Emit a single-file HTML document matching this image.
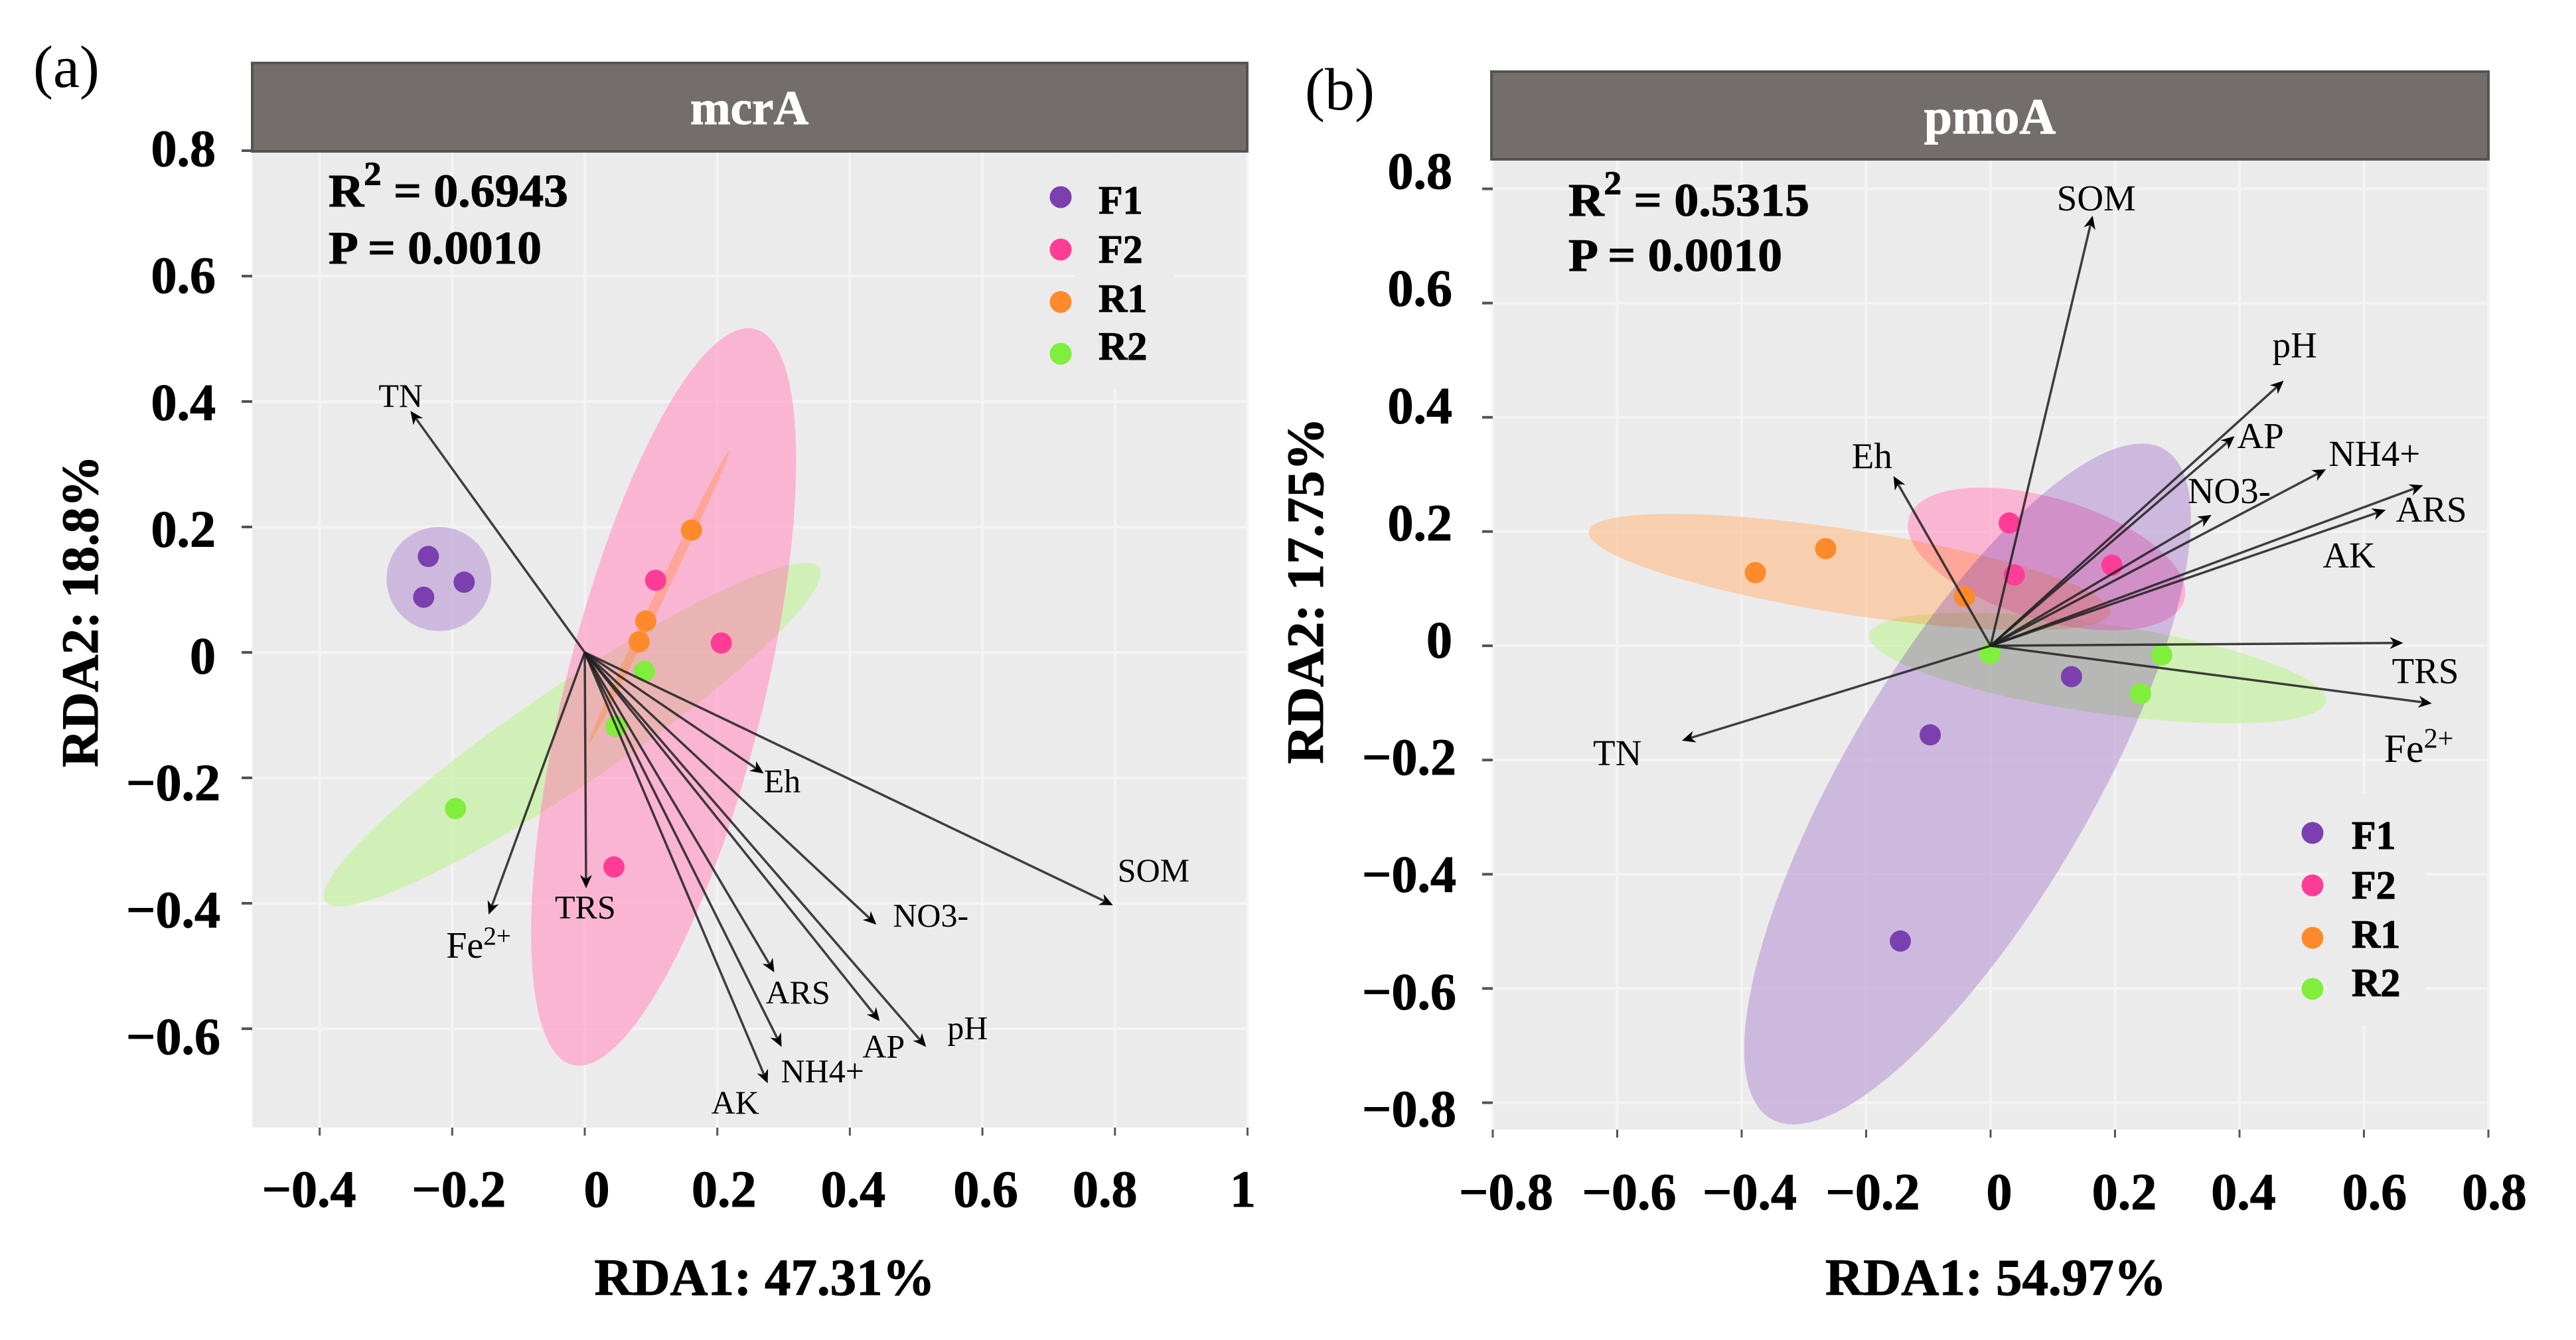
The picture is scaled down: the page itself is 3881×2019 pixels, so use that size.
<!DOCTYPE html>
<html lang="en">
<head>
<meta charset="utf-8">
<title>RDA biplots of mcrA and pmoA</title>
<style>
html,body{margin:0;padding:0;background:#fff;}
svg{display:block;}
text{font-family:"Liberation Serif",serif;fill:#000;}
.b{font-weight:bold;stroke:#000;stroke-width:1px;}
.w{fill:#fff;stroke:#fff;}
</style>
</head>
<body>
<svg id="figure" width="3881" height="2019" viewBox="0 0 3881 2019">
  <rect x="0" y="0" width="3881" height="2019" fill="#ffffff"/>

  <text x="50" y="131" font-size="90">(a)</text>
  <text x="1966" y="165" font-size="90">(b)</text>

  <g id="panel-a">
    <rect x="380" y="228" width="1498" height="1471" fill="#ebebeb"/>
    <g id="a-grid"></g>
    <rect x="1620" y="232" width="148" height="355" fill="#ebebeb"/>
    <g id="a-marks"></g>
    <rect x="380" y="95" width="1499" height="133" fill="#736e6b" stroke="#575352" stroke-width="4"/>
    <text class="b w" x="1129" y="187" font-size="73" text-anchor="middle">mcrA</text>
    <text class="b" x="495" y="311" font-size="70" textLength="361" lengthAdjust="spacingAndGlyphs">R<tspan font-size="50" dy="-33">2</tspan><tspan dy="33"> = 0.6943</tspan></text>
    <text class="b" x="495" y="397" font-size="70" textLength="321" lengthAdjust="spacingAndGlyphs">P = 0.0010</text>
    <g>
      <circle cx="1598" cy="297" r="16.5" fill="#7b3fb0"/>
      <text class="b" x="1655" y="322" font-size="60">F1</text>
      <circle cx="1598" cy="376" r="16.5" fill="#ff3d97"/>
      <text class="b" x="1655" y="396" font-size="60">F2</text>
      <circle cx="1598" cy="455" r="16.5" fill="#ff8a2b"/>
      <text class="b" x="1655" y="470" font-size="60">R1</text>
      <circle cx="1598" cy="533" r="16.5" fill="#80ee3c"/>
      <text class="b" x="1655" y="542" font-size="60">R2</text>
    </g>
    <text class="b" x="1152" y="1951" font-size="78" text-anchor="middle" textLength="513" lengthAdjust="spacingAndGlyphs">RDA1: 47.31%</text>
    <text class="b" transform="translate(147,921) rotate(-90)" font-size="78" text-anchor="middle" textLength="470" lengthAdjust="spacingAndGlyphs">RDA2: 18.8%</text>
  </g>

  <g id="panel-b">
    <rect x="2249" y="240" width="1499" height="1462" fill="#ebebeb"/>
    <g id="b-grid"></g>
    <rect x="3507" y="1195" width="148" height="350" fill="#ebebeb"/>
    <g id="b-marks"></g>
    <rect x="2247" y="108" width="1502" height="132" fill="#736e6b" stroke="#575352" stroke-width="4"/>
    <text class="b w" x="2998" y="201" font-size="76" text-anchor="middle">pmoA</text>
    <text class="b" x="2363" y="325" font-size="70" textLength="363" lengthAdjust="spacingAndGlyphs">R<tspan font-size="50" dy="-33">2</tspan><tspan dy="33"> = 0.5315</tspan></text>
    <text class="b" x="2363" y="408" font-size="70" textLength="322" lengthAdjust="spacingAndGlyphs">P = 0.0010</text>
    <g>
      <circle cx="3484" cy="1255" r="16.5" fill="#7b3fb0"/>
      <text class="b" x="3543" y="1279" font-size="60">F1</text>
      <circle cx="3484" cy="1334" r="16.5" fill="#ff3d97"/>
      <text class="b" x="3543" y="1354" font-size="60">F2</text>
      <circle cx="3484" cy="1413" r="16.5" fill="#ff8a2b"/>
      <text class="b" x="3543" y="1428" font-size="60">R1</text>
      <circle cx="3484" cy="1490" r="16.5" fill="#80ee3c"/>
      <text class="b" x="3543" y="1501" font-size="60">R2</text>
    </g>
    <text class="b" x="3007" y="1951" font-size="78" text-anchor="middle" textLength="514" lengthAdjust="spacingAndGlyphs">RDA1: 54.97%</text>
    <text class="b" transform="translate(1993,890) rotate(-90)" font-size="78" text-anchor="middle" textLength="522" lengthAdjust="spacingAndGlyphs">RDA2: 17.75%</text>
  </g>
</svg>

<script>
// ---------- shared ----------
const groupNames = ['R2', 'F2', 'R1', 'F1'];

// ---------- panel (a) mcrA: values ----------
const mcrXTicks = [-0.4, -0.2, 0, 0.2, 0.4, 0.6, 0.8, 1];
const mcrYTicks = [0.8, 0.6, 0.4, 0.2, 0, -0.2, -0.4, -0.6];

const mcrF1 = [[-0.236, 0.153], [-0.182, 0.112], [-0.243, 0.088]];
const mcrF2 = [[0.107, 0.115], [0.206, 0.015], [0.044, -0.342]];
const mcrR1 = [[0.161, 0.195], [0.092, 0.05], [0.082, 0.017]];
const mcrR2 = [[0.09, -0.03], [0.047, -0.118], [-0.195, -0.249]];

// ellipse parameters: centre x, centre y, spread x, spread y, correlation
const mcrEllipseF1 = [-0.22, 0.117, 0.079, 0.083, 0];
const mcrEllipseF2 = [0.119, -0.071, 0.2, 0.588, 0.64];
const mcrEllipseR1 = [0.112, 0.088, 0.106, 0.233, 0.997];
const mcrEllipseR2 = [-0.019, -0.131, 0.375, 0.274, 0.94];

const mcrVars = ['TN', 'Fe2+', 'TRS', 'Eh', 'SOM', 'NO3-', 'ARS', 'AP', 'pH', 'NH4+', 'AK'];
const mcrVarX = [-0.263, -0.145, 0.002, 0.27, 0.797, 0.44, 0.286, 0.445, 0.515, 0.297, 0.276];
const mcrVarY = [0.385, -0.418, -0.376, -0.193, -0.403, -0.434, -0.51, -0.588, -0.629, -0.629, -0.687];

// ---------- panel (b) pmoA: values ----------
const pmoXTicks = [-0.8, -0.6, -0.4, -0.2, 0, 0.2, 0.4, 0.6, 0.8];
const pmoYTicks = [0.8, 0.6, 0.4, 0.2, 0, -0.2, -0.4, -0.6, -0.8];

const pmoF1 = [[0.13, -0.054], [-0.097, -0.156], [-0.145, -0.517]];
const pmoF2 = [[0.03, 0.215], [0.038, 0.124], [0.195, 0.141]];
const pmoR1 = [[-0.265, 0.17], [-0.378, 0.128], [-0.042, 0.086]];
const pmoR2 = [[-0.001, -0.014], [0.275, -0.016], [0.241, -0.084]];

const pmoEllipseF1 = [-0.037, -0.242, 0.359, 0.596, 0.78];
const pmoEllipseF2 = [0.09, 0.152, 0.223, 0.125, -0.47];
const pmoEllipseR1 = [-0.227, 0.129, 0.419, 0.102, -0.68];
const pmoEllipseR2 = [0.172, -0.039, 0.367, 0.097, -0.58];

const pmoVars = ['SOM', 'pH', 'AP', 'Eh', 'NH4+', 'NO3-', 'ARS', 'AK', 'TRS', 'Fe2+', 'TN'];
const pmoVarX = [0.164, 0.471, 0.392, -0.156, 0.539, 0.355, 0.695, 0.635, 0.663, 0.709, -0.496];
const pmoVarY = [0.753, 0.464, 0.367, 0.297, 0.309, 0.229, 0.281, 0.238, 0.005, -0.101, -0.166];

// ---------- styling ----------
const pointColor = {F1: '#7b3fb0', F2: '#ff3d97', R1: '#ff8a2b', R2: '#80ee3c'};
const hullColor = {F1: '#7b3fae', F2: '#ff75af', R1: '#ff821e', R2: '#88e83a'};
const hullAlpha = {F1: 0.33, F2: 0.5, R1: 0.33, R2: 0.33};

const SVG_NS = 'http://www.w3.org/2000/svg';
function make(tag, parent) {
  const el = document.createElementNS(SVG_NS, tag);
  parent.appendChild(el);
  return el;
}
function fmt(v) {
  if (v === 0) return '0';
  if (v === 1) return '1';
  const s = Math.abs(v).toFixed(1);
  return (v < 0 ? '\u2212' : '') + s;
}
function ellipsePath(e, sx, sy) {
  const cx = e[0], cy = e[1], wx = e[2], wy = e[3], rho = e[4];
  const q = Math.sqrt(1 - rho * rho);
  let d = '';
  for (let i = 0; i < 120; i++) {
    const t = i / 120 * 2 * Math.PI;
    const vx = cx + wx * Math.cos(t);
    const vy = cy + wy * (rho * Math.cos(t) + q * Math.sin(t));
    d += (i ? 'L' : 'M') + sx(vx).toFixed(1) + ' ' + sy(vy).toFixed(1);
  }
  return d + 'Z';
}

function drawPanel(cfg) {
  const grid = document.getElementById(cfg.gridId);
  const marks = document.getElementById(cfg.marksId);
  const sx = v => cfg.x0 + v * cfg.xScale;
  const sy = v => cfg.y0 - v * cfg.yScale;
  const labelY = v => cfg.labelY0 - v * cfg.labelYScale;

  // x grid, ticks and labels
  cfg.xTicks.forEach((v, i) => {
    const line = make('line', grid);
    
    
    line.setAttribute('x1', sx(v)); line.setAttribute('x2', sx(v));
    line.setAttribute('y1', cfg.top); line.setAttribute('y2', cfg.bottom);
    line.setAttribute('stroke', '#f4f4f4'); line.setAttribute('stroke-width', 4);

    const tick = make('line', marks);
    
    
    tick.setAttribute('x1', sx(v)); tick.setAttribute('x2', sx(v));
    tick.setAttribute('y1', cfg.bottom); tick.setAttribute('y2', cfg.bottom + 12);
    tick.setAttribute('stroke', '#555'); tick.setAttribute('stroke-width', 3);

    const label = make('text', marks);
    
    
    label.setAttribute('class', 'b');
    label.setAttribute('x', sx(v) + cfg.xLabelNudge[i]);
    label.setAttribute('y', cfg.xLabelBase);
    label.setAttribute('font-size', 78);
    label.setAttribute('text-anchor', 'middle');
    label.textContent = fmt(v);
  });

  // y grid, ticks and labels
  cfg.yTicks.forEach(v => {
    const line = make('line', grid);
    
    
    line.setAttribute('x1', cfg.left); line.setAttribute('x2', cfg.right);
    line.setAttribute('y1', sy(v)); line.setAttribute('y2', sy(v));
    line.setAttribute('stroke', '#f4f4f4'); line.setAttribute('stroke-width', 4);

    const tick = make('line', marks);
    
    
    tick.setAttribute('x1', cfg.left - 16); tick.setAttribute('x2', cfg.left);
    tick.setAttribute('y1', sy(v)); tick.setAttribute('y2', sy(v));
    tick.setAttribute('stroke', '#555'); tick.setAttribute('stroke-width', 4);

    const label = make('text', marks);
    
    
    label.setAttribute('class', 'b');
    label.setAttribute('x', v < 0 ? cfg.yLabelRightNeg : cfg.yLabelRightPos);
    label.setAttribute('y', labelY(v));
    label.setAttribute('font-size', 78);
    label.setAttribute('text-anchor', 'end');
    label.textContent = fmt(v);
  });

  // lightening underlays, then tinted group ellipses
  groupNames.forEach(g => {
    const under = make('path', marks);
    
    
    under.setAttribute('d', ellipsePath(cfg.ellipses[g], sx, sy));
    under.setAttribute('fill', '#fff');
    under.setAttribute('fill-opacity', 0.5);
  });
  groupNames.forEach(g => {
    const hull = make('path', marks);
    
    
    hull.setAttribute('d', ellipsePath(cfg.ellipses[g], sx, sy));
    hull.setAttribute('fill', hullColor[g]);
    hull.setAttribute('fill-opacity', hullAlpha[g]);
  });

  // sample points
  groupNames.forEach(g => {
    cfg.points[g].forEach(p => {
      const dot = make('circle', marks);
      
      
      dot.setAttribute('cx', sx(p[0]));
      dot.setAttribute('cy', sy(p[1]));
      dot.setAttribute('r', 16);
      dot.setAttribute('fill', pointColor[g]);
    });
  });

  // environmental vectors
  cfg.vars.forEach((name, i) => {
    const tx = sx(cfg.varX[i]), ty = sy(cfg.varY[i]);
    const ox = sx(0), oy = sy(0);
    const len = Math.hypot(tx - ox, ty - oy) || 1;
    const ux = (tx - ox) / len, uy = (ty - oy) / len;

    const shaft = make('line', marks);
    
    
    shaft.setAttribute('x1', ox); shaft.setAttribute('y1', oy);
    shaft.setAttribute('x2', tx - ux * 8); shaft.setAttribute('y2', ty - uy * 8);
    shaft.setAttribute('stroke', '#1f1f1f');
    shaft.setAttribute('stroke-opacity', 0.85);
    shaft.setAttribute('stroke-width', 3.5);

    const bx = tx - ux * 20, by = ty - uy * 20;
    const head = make('polygon', marks);
    
    
    head.setAttribute('points', [
      tx + ',' + ty,
      (bx - uy * 9) + ',' + (by + ux * 9),
      (tx - ux * 14) + ',' + (ty - uy * 14),
      (bx + uy * 9) + ',' + (by - ux * 9)
    ].join(' '));
    head.setAttribute('fill', '#000');

    const nudge = cfg.labelNudge[name];
    const label = make('text', marks);
    
    
    label.setAttribute('x', tx + nudge[0]);
    label.setAttribute('y', ty + nudge[1]);
    if (name === 'Fe2+') {
      label.setAttribute('font-size', cfg.feFont);
      label.appendChild(document.createTextNode('Fe'));
      const sup = make('tspan', label);
      sup.setAttribute('font-size', cfg.feFont * 0.7);
      sup.setAttribute('dy', -cfg.feFont * 0.36);
      sup.textContent = '2+';
    } else {
      label.setAttribute('font-size', cfg.labelFont);
      label.textContent = name;
    }
  });
}

drawPanel({
  gridId: 'a-grid', marksId: 'a-marks',
  x0: 881, xScale: 998.5, y0: 983, yScale: 945,
  left: 380, right: 1878, top: 228, bottom: 1699,
  labelY0: 1014.6, labelYScale: 955.7,
  yLabelRightPos: 325, yLabelRightNeg: 332, xLabelBase: 1818,
  xLabelNudge: [-16, 10, 18, 10, 5, 5, -15, -7],
  xTicks: mcrXTicks, yTicks: mcrYTicks,
  points: {F1: mcrF1, F2: mcrF2, R1: mcrR1, R2: mcrR2},
  ellipses: {F1: mcrEllipseF1, F2: mcrEllipseF2, R1: mcrEllipseR1, R2: mcrEllipseR2},
  vars: mcrVars, varX: mcrVarX, varY: mcrVarY,
  labelFont: 50, feFont: 56,
  labelNudge: {
    'TN': [-48, -6], 'Fe2+': [-64, 65], 'TRS': [-47, 45], 'Eh': [0, 28],
    'SOM': [7, -36], 'NO3-': [25, 3], 'ARS': [-13, 47], 'AP': [-26, 55],
    'pH': [32, -12], 'NH4+': [-1, 53], 'AK': [-85, 46]
  }
});

drawPanel({
  gridId: 'b-grid', marksId: 'b-marks',
  x0: 2999, xScale: 937.5, y0: 973, yScale: 860.6,
  left: 2249, right: 3748, top: 240, bottom: 1702,
  labelY0: 990.5, labelYScale: 883,
  yLabelRightPos: 2188, yLabelRightNeg: 2194, xLabelBase: 1822,
  xLabelNudge: [20, 18, 12, 10, 13, 14, 6, 16, 9],
  xTicks: pmoXTicks, yTicks: pmoYTicks,
  points: {F1: pmoF1, F2: pmoF2, R1: pmoR1, R2: pmoR2},
  ellipses: {F1: pmoEllipseF1, F2: pmoEllipseF2, R1: pmoEllipseR1, R2: pmoEllipseR2},
  vars: pmoVars, varX: pmoVarX, varY: pmoVarY,
  labelFont: 55, feFont: 60,
  labelNudge: {
    'SOM': [-54, -8], 'pH': [-17, -35], 'AP': [4, 18], 'Eh': [-63, -12],
    'NH4+': [4, -5], 'NO3-': [-36, -18], 'ARS': [-41, 55], 'AK': [-95, 87],
    'TRS': [-17, 61], 'Fe2+': [-72, 88], 'TN': [-134, 37]
  }
});
</script>
</body>
</html>
